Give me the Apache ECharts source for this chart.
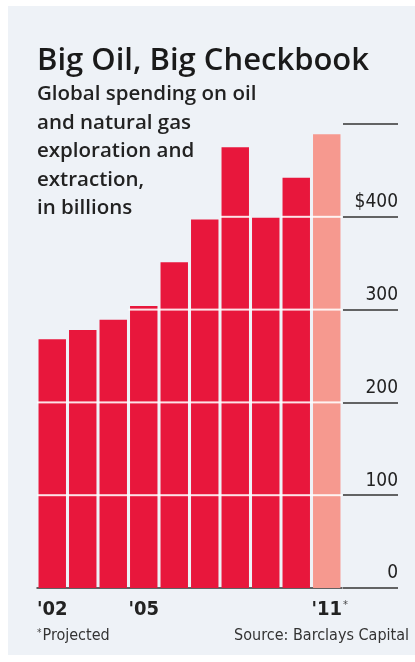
<!DOCTYPE html>
<html>
<head>
<meta charset="utf-8">
<script src="https://cdn.jsdelivr.net/npm/echarts@6/dist/echarts.min.js"></script>
<style>
html,body{margin:0;padding:0;background:#ffffff;}
#c{width:415px;height:662px;}
</style>
</head>
<body>
<div id="c"></div>
<script>
// Data
var years = ['2002','2003','2004','2005','2006','2007','2008','2009','2010','2011'];
var spending = [268, 278, 289, 304, 351, 397, 475, 399, 442, 489];
var projected = [false, false, false, false, false, false, false, false, false, true];
var xTickLabels = ["'02", "", "", "'05", "", "", "", "", "", "'11"];
var xTickStars = ["", "", "", "", "", "", "", "", "", "*"];
var yTicks = [0, 100, 200, 300, 400, 500];
var yTickLabels = ['0', '100', '200', '300', '$400', ''];

var RED = '#e8173c', SALMON = '#f6998f', BG = '#eef2f7';
var FONT = '"Open Sans", Roboto, sans-serif';
var CFONT = '"DejaVu Sans Condensed", "Liberation Sans Narrow", sans-serif';

var chart = echarts.init(document.getElementById('c'), null, {renderer: 'canvas'});

var barData = spending.map(function (v, i) {
  return {value: v, itemStyle: {color: projected[i] ? SALMON : RED}};
});

// white grid lines drawn only across the bars
function renderGridOnBars(params, api) {
  var idx = api.value(0), val = api.value(1);
  var band = api.size([1, 0])[0];
  var cx = api.coord([idx, 0])[0];
  var children = [];
  for (var k = 0; k < yTicks.length; k++) {
    var t = yTicks[k];
    if (t <= 0 || t >= val) continue;
    var y = api.coord([idx, t])[1];
    children.push({type: 'line', shape: {x1: cx - band / 2, y1: y, x2: cx + band / 2, y2: y},
      style: {stroke: 'rgba(255,255,255,0.88)', lineWidth: 2}});
  }
  return {type: 'group', children: children};
}

chart.setOption({
  backgroundColor: '#ffffff',
  animation: false,
  graphic: [
    {type: 'rect', z: -10, silent: true, shape: {x: 8, y: 6, width: 407, height: 649}, style: {fill: BG}}
  ],
  title: [
    {text: 'Big Oil, Big Checkbook', left: 37, top: 46, padding: 0,
     textStyle: {fontFamily: FONT, fontSize: 31, fontWeight: 600, color: '#1a1a1a'}},
    {text: 'Global spending on oil\nand natural gas\nexploration and\nextraction,\nin billions', left: 37, top: 80, padding: 0,
     textStyle: {fontFamily: FONT, fontSize: 20.5, fontWeight: 600, color: '#222222', lineHeight: 28.5}},
    {text: '{s|*}{t|Projected}', left: 37, top: 628, padding: 0,
     textStyle: {rich: {
       s: {fontFamily: CFONT, fontSize: 10, fontWeight: 'normal', color: '#444444', verticalAlign: 'top', padding: [0, 1, 6, 0]},
       t: {fontFamily: CFONT, fontSize: 16, fontWeight: 'normal', color: '#333333'}}}},
    {text: 'Source: Barclays Capital', right: 6, top: 628, padding: 0,
     textStyle: {fontFamily: CFONT, fontSize: 16, fontWeight: 'normal', color: '#333333'}}
  ],
  grid: [
    {left: 37, width: 305, top: 124, bottom: 74, containLabel: false},
    {left: 343, width: 55, top: 124, bottom: 74, containLabel: false}
  ],
  xAxis: [
    {type: 'category', gridIndex: 0, data: years,
     axisLine: {show: true, lineStyle: {color: '#333333', width: 1.5}},
     axisTick: {show: false}, axisLabel: {show: false}, splitLine: {show: false}},
    {type: 'value', gridIndex: 0, min: 0, max: years.length, interval: 1, position: 'bottom',
     axisLine: {show: false}, axisTick: {show: false}, splitLine: {show: false},
     axisLabel: {show: true, align: 'left', margin: 12,
       formatter: function (v) {
         var i = Math.round(v);
         if (!xTickLabels[i]) return '';
         return '{a|' + xTickLabels[i] + '}' + (xTickStars[i] ? '{s|' + xTickStars[i] + '}' : '');
       },
       rich: {
         a: {fontFamily: CFONT, fontSize: 20, fontWeight: 'bold', color: '#222222'},
         s: {fontFamily: CFONT, fontSize: 11, color: '#444444', verticalAlign: 'top', padding: [0, 0, 8, 1]}
       }}},
    {type: 'value', gridIndex: 1, min: 0, max: 1, show: false}
  ],
  yAxis: [
    {type: 'value', gridIndex: 0, min: 0, max: 500, interval: 100,
     axisLine: {show: false}, axisTick: {show: false}, axisLabel: {show: false},
     splitLine: {show: false}},
    {type: 'value', gridIndex: 1, min: 0, max: 500, interval: 100, position: 'right',
     axisLine: {show: false}, axisTick: {show: false},
     splitLine: {show: true, lineStyle: {color: '#333333', width: 1.5}},
     axisLabel: {show: true, inside: true, align: 'right', verticalAlign: 'bottom', margin: 0, padding: [0, 0, 5, 0],
       fontFamily: CFONT, fontSize: 19, color: '#222222',
       formatter: function (v) { var i = yTicks.indexOf(v); return i >= 0 ? yTickLabels[i] : ''; }}}
  ],
  series: [
    {type: 'bar', xAxisIndex: 0, yAxisIndex: 0, data: barData, barCategoryGap: '10%', z: 2},
    {type: 'custom', xAxisIndex: 0, yAxisIndex: 0, z: 3, silent: true, clip: true,
     data: spending.map(function (v, i) { return [i, v]; }),
     renderItem: renderGridOnBars}
  ]
});
</script>
</body>
</html>
